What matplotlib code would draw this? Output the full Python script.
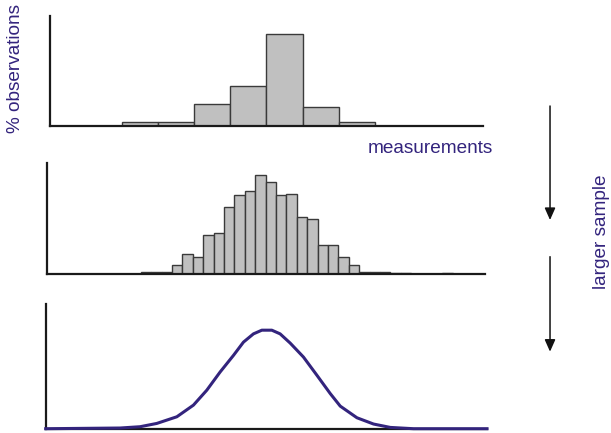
import numpy as np
import matplotlib
matplotlib.use("Agg")
import matplotlib.pyplot as plt
from matplotlib.patches import FancyArrowPatch

plt.rcParams["font.family"] = ["Liberation Sans", "DejaVu Sans"]

# small sample: bin edges (measurement units) and % of observations
small_left = [7.0, 10.5, 14.0, 17.5, 21.0, 24.5, 28.0]
small_width = 3.5
small_pct = [2.1, 2.1, 12.0, 22.0, 50.0, 10.5, 2.1]

# larger sample: unit-width bins
large_left = [9, 10, 11, 12, 13, 14, 15, 16, 17, 18, 19, 20, 21, 22, 23,
              24, 25, 26, 27, 28, 29, 30, 31, 32, 33, 34, 38]
large_pct = [0.2, 0.18, 0.18, 0.95, 2.2, 1.8, 4.3, 4.5, 7.3, 8.6, 9.1, 10.8,
             10.0, 8.6, 8.7, 6.2, 6.0, 3.2, 3.2, 1.8, 1.0, 0.2, 0.2, 0.2,
             0.15, 0.15, 0.15]

# very large sample: smooth curve
curve_x = [0.0, 7.08, 8.98, 10.57, 12.48, 14.06, 15.33, 16.60, 17.87, 18.82,
           19.77, 20.57, 21.52, 22.31, 23.27, 24.53, 25.81, 27.08, 28.03,
           29.62, 31.20, 32.79, 35.01, 42.0]
curve_y = [0.0, 0.07, 0.2, 0.53, 1.2, 2.37, 3.87, 5.7, 7.37, 8.7, 9.53, 9.9,
           9.9, 9.53, 8.6, 7.2, 5.37, 3.53, 2.27, 1.1, 0.47, 0.13, 0.0, 0.0]

ink = "#33247d"
bar_fill = "#c0c0c0"
bar_edge = "#3a3a3a"

fig = plt.figure(figsize=(6.11, 4.33), dpi=100)


def style(ax, xmax, ymax):
    ax.set_xlim(0, xmax)
    ax.set_ylim(0, ymax)
    for s in ["top", "right"]:
        ax.spines[s].set_visible(False)
    for s in ["left", "bottom"]:
        ax.spines[s].set_linewidth(1.6)
        ax.spines[s].set_color("#1a1a1a")
    ax.set_xticks([])
    ax.set_yticks([])
    ax.patch.set_alpha(0)


ax1 = fig.add_axes([0.0818, 0.709, 0.7087, 0.2547])
ax1.bar(small_left, small_pct, width=small_width, align="edge",
        color=bar_fill, edgecolor=bar_edge, linewidth=1.0)
style(ax1, 42, 60)

ax2 = fig.add_axes([0.0774, 0.3672, 0.7164, 0.2564])
ax2.bar(large_left, large_pct, width=1.0, align="edge",
        color=bar_fill, edgecolor=bar_edge, linewidth=1.0)
style(ax2, 42.1, 12.1)

ax3 = fig.add_axes([0.0748, 0.0099, 0.7223, 0.288])
style(ax3, 42, 12.53)
ax3.plot(curve_x, curve_y, color=ink, linewidth=2.2, clip_on=False,
         solid_joinstyle="round", zorder=5)

# labels
fig.text(0.026, 0.842, "% observations", rotation=90, ha="center",
         va="center", fontsize=13.7, color=ink)
fig.text(0.7046, 0.656, "measurements", ha="center", va="center",
         fontsize=13.7, color=ink)
fig.text(0.985, 0.464, "larger sample", rotation=90, ha="center",
         va="center", fontsize=13.7, color=ink)

# arrows
for y0, y1 in [(0.7552, 0.4919), (0.4072, 0.1878)]:
    arr = FancyArrowPatch((0.9002, y0), (0.9002, y1),
                          transform=fig.transFigure,
                          arrowstyle="-|>,head_length=0.9,head_width=0.4",
                          mutation_scale=8, linewidth=1.1, color="#111111",
                          shrinkA=0, shrinkB=0)
    fig.add_artist(arr)

fig.savefig("out.png", dpi=100)
